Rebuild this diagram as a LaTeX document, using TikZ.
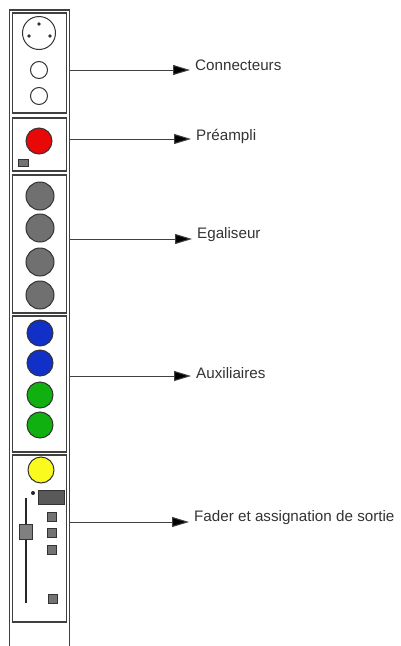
\documentclass[tikz,border=0pt]{standalone}
\usepackage{fontspec}
\setmainfont{Liberation Sans}
\usepackage{xcolor}
\usetikzlibrary{positioning,arrows.meta}

\definecolor{knobred}{RGB}{232,8,8}
\definecolor{knobgray}{RGB}{112,112,112}
\definecolor{knobblue}{RGB}{16,48,200}
\definecolor{knobgreen}{RGB}{16,176,16}
\definecolor{knobyellow}{RGB}{250,250,30}

\tikzset{
  panel/.style={draw=black!75, line width=1.5pt, rectangle, minimum width=54pt, inner sep=0pt},
  knob/.style={draw=black!80, line width=1pt, circle, inner sep=0pt, minimum size=26pt},
  jack/.style={draw=black!80, line width=1pt, circle, inner sep=0pt, minimum size=17pt, fill=white},
  btn/.style={draw=black!80, line width=0.8pt, fill=black!55, rectangle, inner sep=0pt, minimum size=9pt},
  lbl/.style={font=\fontsize{15.2}{17}\selectfont, text=black!80, anchor=west, inner sep=2pt},
  arr/.style={draw=black!75, line width=1pt, -{Triangle[length=17pt,width=10pt,fill=black]}, shorten >=3pt}
}

\begin{document}
\begin{tikzpicture}[x=1pt,y=-1pt]
\useasboundingbox (0,0) rectangle (401,646);

% channel strip, open at the bottom
\draw[draw=black!75, line width=1.5pt] (9.5,646) -- (9.5,10) -- (69.5,10) -- (69.5,646);

% the five sections
\node[panel, minimum height=100pt] (conn) at (39.5,63) {};
\node[panel, minimum height=53pt] (pre) at (39.5,144.5) {};
\node[panel, minimum height=138pt] (eq) at (39.5,244) {};
\node[panel, minimum height=136pt] (aux) at (39.5,384) {};
\node[panel, minimum height=167pt] (fad) at (39.5,538.5) {};

% connectors
\node[knob, minimum size=33pt, fill=white] (xlr) at (39,33) {};
\fill[black!80] (39,24) circle (1.8pt);
\fill[black!80] (29,36) circle (1.8pt);
\fill[black!80] (50,36) circle (1.8pt);
\node[jack] (jackA) at (39,70) {};
\node[jack] (jackB) at (39,96) {};

% preamp
\node[knob, fill=knobred] (gain) at (39,141) {};
\node[btn, minimum width=10pt, minimum height=7pt] (pad) at (23,163) {};

% equaliser
\node[knob, minimum size=28pt, fill=knobgray] (eqA) at (40,196) {};
\node[knob, minimum size=28pt, fill=knobgray] (eqB) at (40,228) {};
\node[knob, minimum size=28pt, fill=knobgray] (eqC) at (40,262) {};
\node[knob, minimum size=28pt, fill=knobgray] (eqD) at (40,295) {};

% auxiliaries
\node[knob, fill=knobblue] (auxA) at (40,333) {};
\node[knob, fill=knobblue] (auxB) at (40,363) {};
\node[knob, fill=knobgreen] (auxC) at (40,395) {};
\node[knob, fill=knobgreen] (auxD) at (40,425) {};

% fader and routing
\node[knob, fill=knobyellow] (pan) at (41,470) {};
\fill[black!85] (33,493) circle (2pt);
\node[btn, minimum width=26pt, minimum height=14pt, fill=black!65] (mute) at (51,497) {};
\node[btn] (busA) at (52,517) {};
\node[btn] (busB) at (52,533) {};
\node[btn] (busC) at (52,550) {};
\node[btn] (solo) at (53,599) {};
\draw[black!85, line width=2pt] (26,498) -- (26,603);
\node[btn, minimum width=13pt, minimum height=15pt, fill=black!50] (cap) at (26,532) {};

% labels
\node[lbl] (lconn) at (193,65) {Connecteurs};
\node[lbl] (lpre) at (194,136) {Préampli};
\node[lbl] (leq) at (195,235) {Egaliseur};
\node[lbl] (laux) at (194,373) {Auxiliaires};
\node[lbl] (lfad) at (192,518) {Fader et assignation de sortie};

% arrows from the strip
\coordinate (pconn) at (69.5,70);
\coordinate (ppre) at (69.5,139);
\coordinate (peq) at (69.5,239);
\coordinate (paux) at (69.5,376);
\coordinate (pfad) at (69.5,522);
\draw[arr] (pconn) -- (pconn -| lconn.west);
\draw[arr] (ppre) -- (ppre -| lpre.west);
\draw[arr] (peq) -- (peq -| leq.west);
\draw[arr] (paux) -- (paux -| laux.west);
\draw[arr] (pfad) -- (pfad -| lfad.west);
\end{tikzpicture}
\end{document}
